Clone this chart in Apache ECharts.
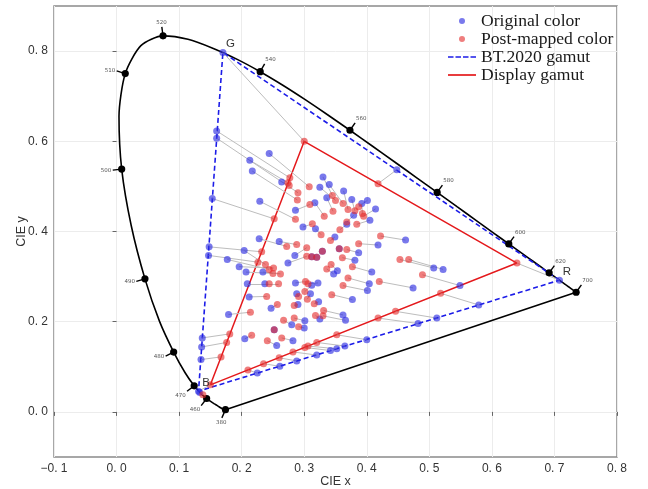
<!DOCTYPE html>
<html><head><meta charset="utf-8">
<script src="https://cdn.jsdelivr.net/npm/echarts@6/dist/echarts.min.js"></script>
<style>html,body{margin:0;padding:0;background:#fff}#chart{width:648px;height:489px}</style>
</head><body><div id="chart"></div>
<script>
// CIE 1931 spectral locus as drawn
const locusNm = [380,385,390,395,400,405,410,415,420,425,430,435,440,445,450,455,460,465,470,475,480,485,490,495,500,505,510,515,520,525,530,535,540,545,550,555,560,565,570,575,580,585,590,595,600,605,610,615,620,625,630,635,640,645,650,655,660,665,670,680,690,700];
const locusX = [0.1741,0.1740,0.1738,0.1736,0.1733,0.1730,0.1726,0.1721,0.1714,0.1703,0.1689,0.1669,0.1644,0.1611,0.1566,0.1510,0.1440,0.1355,0.1241,0.1096,0.0913,0.0687,0.0454,0.0235,0.0082,0.0039,0.0139,0.0389,0.0743,0.1142,0.1547,0.1929,0.2296,0.2658,0.3016,0.3373,0.3731,0.4087,0.4441,0.4788,0.5125,0.5448,0.5752,0.6029,0.6270,0.6482,0.6658,0.6801,0.6915,0.7006,0.7079,0.7140,0.7190,0.7230,0.7260,0.7283,0.7300,0.7311,0.7320,0.7334,0.7344,0.7347];
const locusY = [0.0050,0.0050,0.0049,0.0049,0.0048,0.0048,0.0048,0.0048,0.0051,0.0058,0.0069,0.0086,0.0109,0.0138,0.0177,0.0227,0.0297,0.0399,0.0578,0.0868,0.1327,0.2007,0.2950,0.4127,0.5384,0.6548,0.7502,0.8120,0.8338,0.8262,0.8059,0.7816,0.7543,0.7243,0.6923,0.6589,0.6245,0.5896,0.5547,0.5202,0.4866,0.4544,0.4242,0.3965,0.3725,0.3514,0.3340,0.3197,0.3083,0.2993,0.2920,0.2859,0.2809,0.2770,0.2740,0.2717,0.2700,0.2689,0.2680,0.2666,0.2656,0.2653];
const markerNm = [380,460,470,480,490,500,510,520,540,560,580,600,620,700];

// gamut triangles (R, G, B, R)
const bt2020X = [0.708,0.170,0.131,0.708];
const bt2020Y = [0.292,0.797,0.046,0.292];
const displayX = [0.640,0.300,0.150,0.640];
const displayY = [0.330,0.600,0.060,0.330];
const vertexNames = ['R','G','B'];

// original colours and their mapped positions (same order)
const origPoints = [
[0.170,0.797],[0.160,0.623],[0.160,0.607],[0.213,0.558],[0.217,0.534],[0.244,0.573],[0.264,0.510],[0.153,0.473],[0.229,0.467],[0.286,0.447],
[0.148,0.366],[0.147,0.347],[0.137,0.164],[0.136,0.144],[0.135,0.116],[0.131,0.046],[0.708,0.292],[0.225,0.086],[0.261,0.101],[0.288,0.113],
[0.320,0.126],[0.342,0.136],[0.352,0.140],[0.365,0.146],[0.400,0.160],[0.482,0.196],[0.512,0.208],[0.579,0.237],[0.448,0.537],[0.204,0.358],
[0.177,0.338],[0.196,0.322],[0.207,0.310],[0.234,0.310],[0.274,0.330],[0.285,0.347],[0.312,0.344],[0.320,0.343],[0.329,0.356],[0.209,0.284],
[0.237,0.284],[0.286,0.286],[0.212,0.255],[0.247,0.230],[0.179,0.216],[0.205,0.162],[0.256,0.147],[0.282,0.158],[0.280,0.193],[0.301,0.202],
[0.252,0.182],[0.300,0.186],[0.298,0.410],[0.318,0.406],[0.317,0.464],[0.330,0.521],[0.325,0.498],[0.336,0.475],[0.340,0.504],[0.363,0.490],
[0.376,0.471],[0.392,0.462],[0.401,0.469],[0.414,0.450],[0.379,0.436],[0.368,0.416],[0.405,0.425],[0.349,0.388],[0.418,0.370],[0.462,0.381],
[0.387,0.353],[0.381,0.336],[0.356,0.362],[0.408,0.310],[0.404,0.284],[0.401,0.269],[0.474,0.275],[0.507,0.319],[0.522,0.316],[0.549,0.280],
[0.347,0.306],[0.353,0.313],[0.377,0.249],[0.322,0.286],[0.312,0.281],[0.310,0.262],[0.323,0.244],[0.288,0.262],[0.290,0.238],[0.325,0.206],
[0.362,0.215],[0.366,0.203],[0.228,0.384],[0.260,0.378],[0.133,0.043]
];
const mappedPoints = [
[0.300,0.600],[0.277,0.519],[0.290,0.486],[0.274,0.508],[0.289,0.470],[0.308,0.499],[0.276,0.502],[0.252,0.428],[0.286,0.427],[0.309,0.460],
[0.232,0.355],[0.226,0.332],[0.181,0.173],[0.176,0.154],[0.167,0.122],[0.150,0.060],[0.640,0.330],[0.210,0.093],[0.235,0.107],[0.260,0.120],
[0.282,0.133],[0.301,0.143],[0.306,0.146],[0.320,0.154],[0.352,0.171],[0.418,0.208],[0.446,0.223],[0.518,0.263],[0.418,0.506],[0.238,0.327],
[0.244,0.316],[0.251,0.319],[0.250,0.307],[0.262,0.306],[0.304,0.345],[0.304,0.364],[0.312,0.344],[0.320,0.343],[0.329,0.356],[0.244,0.284],
[0.259,0.284],[0.302,0.289],[0.240,0.256],[0.257,0.238],[0.214,0.221],[0.216,0.170],[0.241,0.158],[0.264,0.164],[0.267,0.203],[0.284,0.208],
[0.252,0.182],[0.291,0.189],[0.313,0.417],[0.327,0.393],[0.332,0.434],[0.345,0.480],[0.350,0.469],[0.346,0.445],[0.362,0.462],[0.370,0.449],
[0.381,0.446],[0.393,0.440],[0.387,0.455],[0.395,0.434],[0.368,0.421],[0.357,0.404],[0.384,0.416],[0.342,0.380],[0.387,0.373],[0.422,0.390],
[0.368,0.360],[0.361,0.342],[0.356,0.362],[0.377,0.322],[0.370,0.297],[0.362,0.280],[0.420,0.289],[0.453,0.338],[0.467,0.338],[0.489,0.304],
[0.336,0.317],[0.343,0.327],[0.344,0.260],[0.306,0.284],[0.301,0.267],[0.305,0.250],[0.316,0.240],[0.291,0.256],[0.284,0.236],[0.318,0.214],
[0.331,0.225],[0.330,0.213],[0.272,0.367],[0.288,0.371],[0.138,0.038]
];

const yTicks = [0, 0.2, 0.4, 0.6, 0.8];

function fmt(v) {
  const s = Math.abs(v).toFixed(1).replace('.', '. ');
  return (v < -1e-9 ? '\u2212' : '') + s;
}

const chart = echarts.init(document.getElementById('chart'), null, {renderer: 'canvas'});

const locusData = locusX.map((x, i) => [x, locusY[i]]);
const last = locusX.length - 1;
const purpleData = [[locusX[last], locusY[last]], [locusX[0], locusY[0]]];
const markerData = markerNm.map(nm => { const i = locusNm.indexOf(nm); return [locusX[i], locusY[i], nm]; });
const vertexData = vertexNames.map((n, i) => [bt2020X[i], bt2020Y[i], i]);

function markerItem(params, api) {
  const nm = api.value(2);
  const idx = locusNm.indexOf(nm);
  const p = api.coord([api.value(0), api.value(1)]);
  const pts = locusX.map((x, m) => api.coord([x, locusY[m]]));
  const d = (a, b) => Math.hypot(a[0] - b[0], a[1] - b[1]);
  let j = idx, k = idx;
  for (let m = idx - 1; m >= 0; m--) { if (d(pts[m], p) >= 6) { j = m; break; } }
  for (let m = idx + 1; m < pts.length; m++) { if (d(pts[m], p) >= 6) { k = m; break; } }
  const a = pts[j], b = pts[k];
  let tx = b[0] - a[0], ty = b[1] - a[1];
  const tl = Math.hypot(tx, ty) || 1; tx /= tl; ty /= tl;
  let nx = ty, ny = -tx;
  let cx = 0, cy = 0;
  for (let m = 0; m < 3; m++) { const c = api.coord([bt2020X[m], bt2020Y[m]]); cx += c[0] / 3; cy += c[1] / 3; }
  if ((p[0] - cx) * nx + (p[1] - cy) * ny < 0) { nx = -nx; ny = -ny; }
  const L = 9;
  const align = nx < -0.45 ? 'right' : (nx > 0.45 ? 'left' : 'center');
  const va = ny < -0.45 ? 'bottom' : (ny > 0.45 ? 'top' : 'middle');
  return {
    type: 'group',
    children: [
      {type: 'line', shape: {x1: p[0], y1: p[1], x2: p[0] + nx * L, y2: p[1] + ny * L}, style: {stroke: '#000', lineWidth: 1.4}},
      {type: 'circle', shape: {cx: p[0], cy: p[1], r: 3.6}, style: {fill: '#000'}},
      {type: 'text', x: p[0] + nx * (L + 1.5), y: p[1] + ny * (L + 1.5),
        style: {text: String(nm), fill: '#555', fontSize: 5.5, fontFamily: 'DejaVu Sans', align: align, verticalAlign: va}}
    ]
  };
}

function vertexItem(params, api) {
  const p = api.coord([api.value(0), api.value(1)]);
  return {type: 'text', x: p[0] + 7.5, y: p[1] - 8.5,
    style: {text: vertexNames[api.value(2)], fill: '#333', fontSize: 11.5, fontFamily: 'Liberation Sans', align: 'center', verticalAlign: 'middle'}};
}

const dashIcon = 'path://M0,0h5.5v1.7h-5.5z M7.5,0h5.5v1.7h-5.5z M15,0h5.5v1.7h-5.5z M22.5,0h5.5v1.7h-5.5z';
const solidIcon = 'path://M0,0h28v1.7h-28z';

const axisFont = {fontFamily: 'Liberation Sans', fontSize: 12, color: '#333'};

const option = {
  animation: false,
  backgroundColor: '#fff',
  grid: {left: 54, right: 31, top: 6, bottom: 32, show: true, borderColor: '#8a8a8a', borderWidth: 1.5, backgroundColor: 'transparent', containLabel: false, outerBoundsMode: 'none'},
  legend: {
    orient: 'vertical', left: 448, top: 12, padding: 0, itemGap: 0, itemWidth: 28, itemHeight: 6,
    textStyle: {fontFamily: 'Liberation Serif', fontSize: 17.6, color: '#1a1a1a', lineHeight: 18},
    selectedMode: false,
    data: [
      {name: 'Original color', icon: 'circle'},
      {name: 'Post-mapped color', icon: 'circle'},
      {name: 'BT.2020 gamut', icon: dashIcon},
      {name: 'Display gamut', icon: solidIcon}
    ]
  },
  xAxis: {
    type: 'value', min: -0.1, max: 0.8, interval: 0.1,
    name: 'CIE x', nameLocation: 'middle', nameGap: 18, nameMoveOverlap: false,
    nameTextStyle: {fontFamily: 'Liberation Sans', fontSize: 12.5, color: '#333'},
    axisLine: {show: false},
    axisTick: {show: true, length: 4, lineStyle: {color: '#666', width: 1}},
    axisLabel: Object.assign({formatter: fmt, margin: 6, showMinLabel: true, showMaxLabel: true, hideOverlap: false}, axisFont),
    splitLine: {show: true, lineStyle: {color: '#ececec', width: 1}}
  },
  yAxis: {
    type: 'value', min: -0.1, max: 0.9,
    name: 'CIE y', nameLocation: 'middle', nameGap: 26, nameRotate: 90, nameMoveOverlap: false,
    nameTextStyle: {fontFamily: 'Liberation Sans', fontSize: 12.5, color: '#333'},
    axisLine: {show: false},
    axisTick: {show: true, length: 4, customValues: yTicks, lineStyle: {color: '#666', width: 1}},
    axisLabel: Object.assign({formatter: fmt, customValues: yTicks, margin: 6}, axisFont),
    splitLine: {show: true, lineStyle: {color: '#ececec', width: 1}}
  },
  series: [
    {name: 'locus', type: 'line', data: locusData, symbol: 'none', smooth: 0.25, z: 2, silent: true,
      lineStyle: {color: '#000', width: 1.6}},
    {name: 'purple', type: 'line', data: purpleData, symbol: 'none', z: 2, silent: true,
      lineStyle: {color: '#000', width: 1.6}},
    {name: 'BT.2020 gamut', type: 'line', data: bt2020X.map((x, i) => [x, bt2020Y[i]]), symbol: 'none', z: 3, silent: true,
      color: '#1c1ce8', itemStyle: {color: '#1c1ce8'}, lineStyle: {color: '#1c1ce8', width: 1.6, type: [5, 3]}},
    {name: 'Display gamut', type: 'line', data: displayX.map((x, i) => [x, displayY[i]]), symbol: 'none', z: 3, silent: true,
      color: '#e4191c', itemStyle: {color: '#e4191c'}, lineStyle: {color: '#e4191c', width: 1.5}},
    {name: 'links', type: 'lines', coordinateSystem: 'cartesian2d', z: 4, silent: true,
      data: origPoints.map((p, i) => ({coords: [p, mappedPoints[i]]})),
      lineStyle: {color: '#bdbdbd', width: 1, opacity: 1, curveness: 0}},
    {name: 'markers', type: 'custom', renderItem: markerItem, data: markerData, z: 5, silent: true, clip: false},
    {name: 'Original color', type: 'scatter', data: origPoints, symbolSize: 7, z: 6,
      itemStyle: {color: 'rgba(40,40,225,0.78)'}},
    {name: 'Post-mapped color', type: 'scatter', data: mappedPoints, symbolSize: 7, z: 7,
      itemStyle: {color: 'rgba(228,40,40,0.75)'}},
    {name: 'vertexLabels', type: 'custom', renderItem: vertexItem, data: vertexData, z: 8, silent: true, clip: false}
  ]
};
chart.setOption(option);
</script>
</body></html>
